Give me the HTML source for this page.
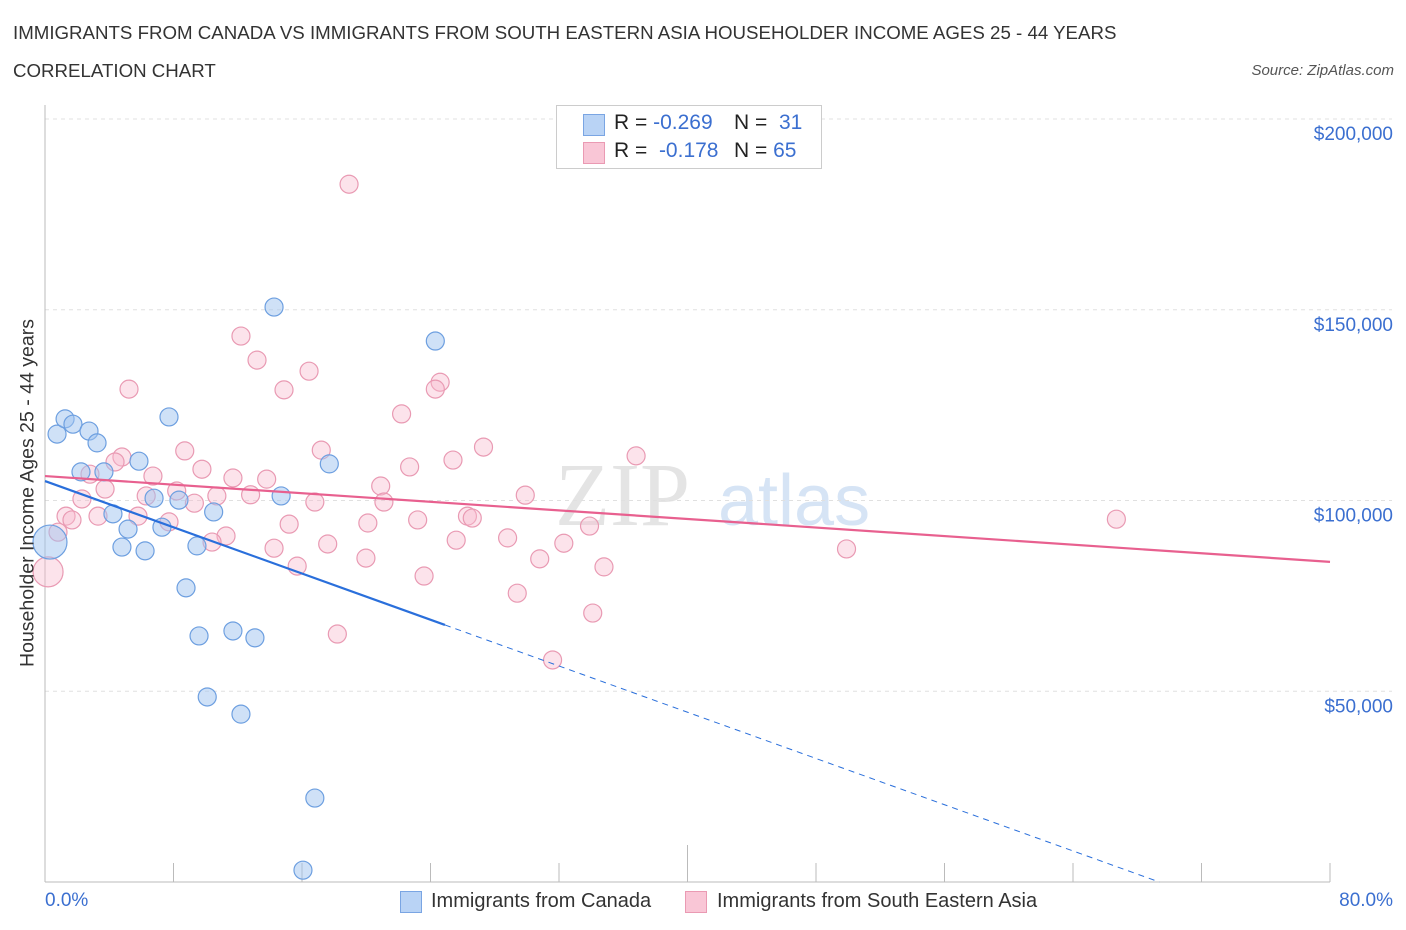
<!DOCTYPE html>
<html><head><meta charset="utf-8"><style>
body{margin:0;background:#fff;font-family:"Liberation Sans",sans-serif;}
#wrap{position:relative;width:1406px;height:930px;overflow:hidden;}
.t{position:absolute;white-space:nowrap;}
</style></head><body>
<div id="wrap">
<div class="t" style="left:13px;top:22px;font-size:18.7px;color:#333;">IMMIGRANTS FROM CANADA VS IMMIGRANTS FROM SOUTH EASTERN ASIA HOUSEHOLDER INCOME AGES 25 - 44 YEARS</div>
<div class="t" style="left:13px;top:60px;font-size:18.7px;color:#333;">CORRELATION CHART</div>
<div class="t" style="right:12px;top:62px;font-size:15px;color:#555;font-style:italic;">Source: ZipAtlas.com</div>
<svg id="plot" width="1406" height="930" style="position:absolute;left:0;top:0"></svg>
</div>
<script>
const yTicks=[50000,100000,150000,200000];
const yTickLabels=["$50,000","$100,000","$150,000","$200,000"];
const canadaX=[0.75,1.25,1.74,2.74,3.24,2.24,3.67,5.85,7.72,4.23,6.79,8.34,10.5,5.17,7.28,4.79,6.23,9.46,14.7,17.7,14.26,24.3,8.78,9.59,11.7,13.07,10.1,12.2,16.8,16.06,0.31];
const canadaY=[117400,121400,120000,118200,115100,107500,107500,110300,121900,96500,100600,100100,97000,92500,93000,87800,86800,88100,101200,109600,150700,141800,77100,64500,65800,64000,48500,44000,22000,3100,89100];
const seaX=[18.93,12.2,13.2,14.88,16.44,5.23,24.6,24.3,22.2,27.3,25.4,22.7,17.2,36.8,8.7,4.79,4.36,9.77,6.72,2.8,11.7,13.8,3.74,20.9,8.2,6.3,10.7,12.8,2.3,9.3,16.8,21.1,29.9,1.31,1.68,3.3,5.79,7.72,15.2,20.1,23.2,26.3,26.6,33.9,66.7,0.81,11.27,10.4,25.6,28.8,32.3,17.6,14.26,19.98,30.8,49.9,15.7,34.8,23.6,29.4,34.1,18.2,31.6,0.19];
const seaY=[182900,143100,136800,129000,133900,129200,131000,129200,122700,114000,110600,108800,113200,111700,113000,111400,110100,108200,106400,106900,105900,105600,103000,103800,102500,101200,101200,101500,100400,99300,99600,99600,101400,95900,94900,95900,95900,94400,93800,94100,94900,95900,95400,93300,95100,91700,90700,89100,89600,90200,88800,88600,87500,84900,84700,87300,82800,82600,80200,75700,70500,65000,58200,81300];
const canadaTrend=[105100,-1515];
const seaTrend=[106400,-281];

const NS="http://www.w3.org/2000/svg";
const svg=document.getElementById('plot');
const X=v=>45+v/80*1285;
const Y=v=>882-v/200000*763;
function mk(tag,attrs,parent){const e=document.createElementNS(NS,tag);for(const k in attrs)e.setAttribute(k,attrs[k]);(parent||svg).appendChild(e);return e;}

let wm=mk('text',{x:555,y:525,'font-size':90,'font-family':'Liberation Serif','fill':'#e4e4e4'});wm.textContent='ZIP';

let wm2=mk('text',{x:718,y:525,'font-size':72,'font-family':'Liberation Sans','fill':'#d6e4f5'});wm2.textContent='atlas';


yTicks.forEach((t,i)=>{
  const g=mk('line',{x1:45,x2:1392,y1:Y(t),y2:Y(t),stroke:'#e0e0e0','stroke-dasharray':'4,4'});
  
  const l=mk('text',{x:1393,y:Y(t)+21,'text-anchor':'end','font-size':19,fill:'#3b6fd0','font-family':'Liberation Sans'});
  l.textContent=yTickLabels[i];
  
});
let ax=mk('line',{x1:45,x2:45,y1:105,y2:882,stroke:'#bbb'});

let bx=mk('line',{x1:45,x2:1330,y1:882,y2:882,stroke:'#bbb'});

for(let i=0;i<=10;i++){
  const x=X(i*8);
  const tk=mk('line',{x1:x,x2:x,y1:i==5?845:863,y2:882,stroke:'#bbb'});
  
}

function dots(xs,ys,fill,stroke,name){
  xs.forEach((v,i)=>{
    let r=9;
    if(v<0.4)r=(name=='canada-point')?17:15;
    const c=mk('circle',{cx:X(v),cy:Y(ys[i]),r:r,fill:fill,stroke:stroke,'stroke-width':1.2});
    
  });
}
dots(seaX,seaY,'rgba(248,185,205,0.4)','#e99ab3','sea-point');
dots(canadaX,canadaY,'rgba(160,196,240,0.5)','#6d9fe0','canada-point');

const cEndSolid=24.9, cZero=-canadaTrend[0]/canadaTrend[1];
let t1=mk('line',{x1:X(0),y1:Y(canadaTrend[0]),x2:X(cEndSolid),y2:Y(canadaTrend[0]+canadaTrend[1]*cEndSolid),stroke:'#2a6fdb','stroke-width':2.2});

let t2=mk('line',{x1:X(cEndSolid),y1:Y(canadaTrend[0]+canadaTrend[1]*cEndSolid),x2:X(cZero),y2:Y(0),stroke:'#2a6fdb','stroke-width':1,'stroke-dasharray':'6,5'});

let t3=mk('line',{x1:X(0),y1:Y(seaTrend[0]),x2:X(80),y2:Y(seaTrend[0]+seaTrend[1]*80),stroke:'#e8608f','stroke-width':2.2});

</script>
<div class="t" style="left:28px;top:493px;font-size:19.5px;color:#333;transform:translate(-50%,-50%) rotate(-90deg);">Householder Income Ages 25 - 44 years</div>
<div class="t" style="left:45px;top:890px;font-size:19px;color:#3b6fd0;">0.0%</div>
<div class="t" style="right:13px;top:890px;font-size:19px;color:#3b6fd0;">80.0%</div>
<div style="position:absolute;left:556px;top:105px;width:264px;height:62px;border:1px solid #ccc;background:#fff;font-size:21px;color:#222;">
 <div style="position:absolute;left:26px;top:8px;width:20px;height:20px;background:#b9d3f5;border:1px solid #7aa5e3;"></div>
 <div class="t" style="left:57px;top:5px;">R = <span style="color:#3b6fd0">-0.269</span></div>
 <div class="t" style="left:177px;top:5px;">N = &nbsp;<span style="color:#3b6fd0">31</span></div>
 <div style="position:absolute;left:26px;top:36px;width:20px;height:20px;background:#f9c6d6;border:1px solid #ea9ab3;"></div>
 <div class="t" style="left:57px;top:33px;">R = &nbsp;<span style="color:#3b6fd0">-0.178</span></div>
 <div class="t" style="left:177px;top:33px;">N = <span style="color:#3b6fd0">65</span></div>
</div>
<div style="position:absolute;left:400px;top:890px;font-size:20px;color:#333;">
 <div style="position:absolute;left:0;top:1px;width:20px;height:20px;background:#b9d3f5;border:1px solid #7aa5e3;"></div>
 <div class="t" style="left:31px;top:0;">Immigrants from Canada</div>
</div>
<div style="position:absolute;left:685px;top:890px;font-size:20px;color:#333;">
 <div style="position:absolute;left:0;top:1px;width:20px;height:20px;background:#f9c6d6;border:1px solid #ea9ab3;"></div>
 <div class="t" style="left:32px;top:0;">Immigrants from South Eastern Asia</div>
</div>
</body></html>
